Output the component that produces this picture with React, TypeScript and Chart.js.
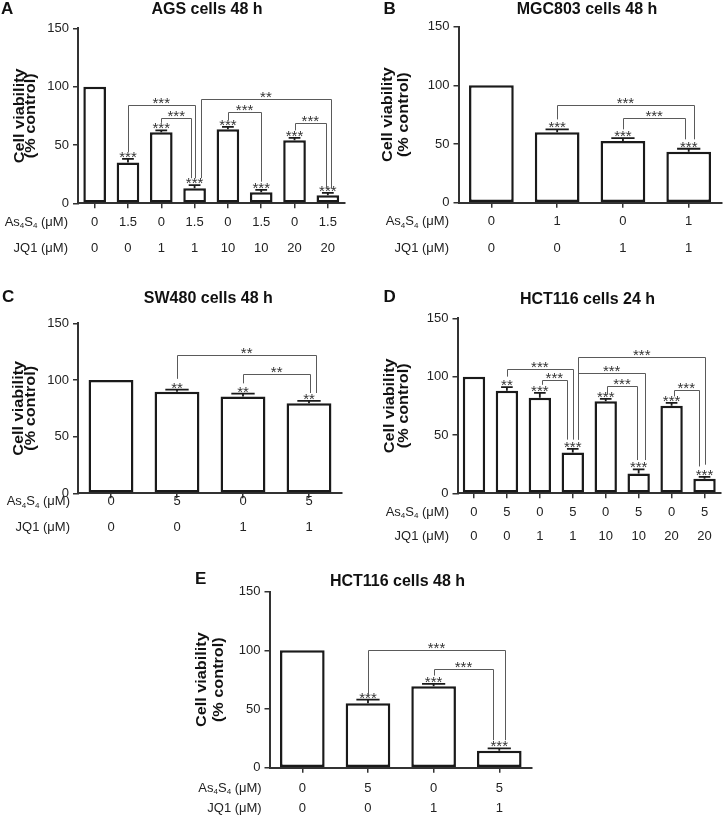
import React, { useEffect, useRef } from "react";
import { Chart, registerables } from "chart.js";

Chart.register(...registerables);

const FONT = "Arial, 'Liberation Sans', Helvetica, sans-serif";
const INK = "#222";
const LINE = "#5a5a5a";

// ---------- Panel A: AGS cells 48 h ----------
const aAs = ["0", "1.5", "0", "1.5", "0", "1.5", "0", "1.5"];
const aJq = ["0", "0", "1", "1", "10", "10", "20", "20"];
const aVals = [100, 35, 61, 13, 63.5, 9.5, 54, 7];
const aErr = [0, 3, 1.5, 2.5, 2, 2, 2, 2];
const aStars = ["", "***", "***", "***", "***", "***", "***", "***"];
const aBrackets = [
  { from: 1, to: 3, top: 84, fromEnd: 44, toEnd: 21.5, label: "***", fromShift: 0, toShift: 0 },
  { from: 2, to: 3, top: 73.5, fromEnd: 69, toEnd: 21.5, label: "***", fromShift: 0, toShift: -0.1 },
  { from: 3, to: 7, top: 89.7, fromEnd: 21.5, toEnd: 12.5, label: "**", fromShift: 0.18, toShift: 0.1 },
  { from: 4, to: 5, top: 78, fromEnd: 71, toEnd: 18.5, label: "***", fromShift: 0, toShift: 0 },
  { from: 6, to: 7, top: 69, fromEnd: 62.5, toEnd: 12.5, label: "***", fromShift: 0, toShift: -0.05 },
];

// ---------- Panel B: MGC803 cells 48 h ----------
const bAs = ["0", "1", "0", "1"];
const bJq = ["0", "0", "1", "1"];
const bVals = [100, 60, 52.5, 43.5];
const bErr = [0, 2.5, 2.5, 2.5];
const bStars = ["", "***", "***", "***"];
const bBrackets = [
  { from: 1, to: 3, top: 83.5, fromEnd: 71, toEnd: 54, label: "***", fromShift: 0, toShift: 0.076 },
  { from: 2, to: 3, top: 72.5, fromEnd: 62.5, toEnd: 54, label: "***", fromShift: 0, toShift: -0.05 },
];

// ---------- Panel C: SW480 cells 48 h ----------
const cAs = ["0", "5", "0", "5"];
const cJq = ["0", "0", "1", "1"];
const cVals = [100, 89.5, 85.5, 79.5];
const cErr = [0, 2, 2.5, 2];
const cStars = ["", "**", "**", "**"];
const cBrackets = [
  { from: 1, to: 3, top: 122, fromEnd: 101, toEnd: 88.5, label: "**", fromShift: 0, toShift: 0.11 },
  { from: 2, to: 3, top: 105, fromEnd: 97, toEnd: 88.5, label: "**", fromShift: 0, toShift: 0.02 },
];

// ---------- Panel D: HCT116 cells 24 h ----------
const dAs = ["0", "5", "0", "5", "0", "5", "0", "5"];
const dJq = ["0", "0", "1", "1", "10", "10", "20", "20"];
const dVals = [100, 88, 82, 35, 79, 17, 75, 12.5];
const dErr = [0, 3, 4, 3, 2, 3.5, 2.5, 1.5];
const dStars = ["", "**", "***", "***", "***", "***", "***", "***"];
const dBrackets = [
  { from: 1, to: 3, top: 106.3, fromEnd: 100, toEnd: 46, label: "***", fromShift: 0, toShift: 0 },
  { from: 2, to: 3, top: 97, fromEnd: 93, toEnd: 46, label: "***", fromShift: 0.06, toShift: -0.18 },
  { from: 3, to: 7, top: 116.6, fromEnd: 46, toEnd: 24.5, label: "***", fromShift: 0.17, toShift: 0.02 },
  { from: 3, to: 5, top: 103, fromEnd: 46, toEnd: 28.5, label: "***", fromShift: 0.17, toShift: 0.19 },
  { from: 4, to: 5, top: 92, fromEnd: 84.5, toEnd: 28.5, label: "***", fromShift: 0.05, toShift: -0.06 },
  { from: 6, to: 7, top: 88.6, fromEnd: 83, toEnd: 23, label: "***", fromShift: 0.07, toShift: -0.18 },
];

// ---------- Panel E: HCT116 cells 48 h ----------
const eAs = ["0", "5", "0", "5"];
const eJq = ["0", "0", "1", "1"];
const eVals = [100, 55, 69.5, 14.5];
const eErr = [0, 3, 2, 2];
const eStars = ["", "***", "***", "***"];
const eBrackets = [
  { from: 1, to: 3, top: 100, fromEnd: 62, toEnd: 23.5, label: "***", fromShift: 0, toShift: 0.087 },
  { from: 2, to: 3, top: 84.4, fromEnd: 78.5, toEnd: 23.5, label: "***", fromShift: 0, toShift: -0.09 },
];

const yTicks = [0, 50, 100, 150];

type Bracket = {
  from: number; to: number; top: number; fromEnd: number; toEnd: number;
  label: string; fromShift: number; toShift: number;
};

type PanelCfg = {
  letter: string;
  title: string;
  as: string[];
  jq: string[];
  vals: number[];
  err: number[];
  stars: string[];
  brackets: Bracket[];
  box: { left: number; top: number; width: number; height: number };
  area: { left: number; top: number; right: number; bottom: number };
  row1: number;
  row2: number;
  labelRight: number;
  yTitleX: [number, number];
  titleX: number;
  titleY: number;
  letterX: number;
  letterY: number;
};

const panels: PanelCfg[] = [
  {
    letter: "A", title: "AGS cells 48 h",
    as: aAs, jq: aJq, vals: aVals, err: aErr, stars: aStars, brackets: aBrackets,
    box: { left: 0, top: 0, width: 362, height: 275 },
    area: { left: 78, top: 28.3, right: 344.5, bottom: 203.3 },
    row1: 19, row2: 44.7, labelRight: 68,
    yTitleX: [19.5, 30.9], titleX: 207, titleY: 9.5, letterX: 1, letterY: 9.5,
  },
  {
    letter: "B", title: "MGC803 cells 48 h",
    as: bAs, jq: bJq, vals: bVals, err: bErr, stars: bStars, brackets: bBrackets,
    box: { left: 362, top: 0, width: 361, height: 275 },
    area: { left: 96.5, top: 26.7, right: 359.6, bottom: 202.7 },
    row1: 19, row2: 45.3, labelRight: 87,
    yTitleX: [26, 42.4], titleX: 225, titleY: 9.5, letterX: 21.5, letterY: 9.5,
  },
  {
    letter: "C", title: "SW480 cells 48 h",
    as: cAs, jq: cJq, vals: cVals, err: cErr, stars: cStars, brackets: cBrackets,
    box: { left: 0, top: 275, width: 362, height: 273 },
    area: { left: 78, top: 48.3, right: 342, bottom: 218.3 },
    row1: 8.4, row2: 33.7, labelRight: 70,
    yTitleX: [19.2, 31.4], titleX: 208.3, titleY: 23.7, letterX: 2, letterY: 22.5,
  },
  {
    letter: "D", title: "HCT116 cells 24 h",
    as: dAs, jq: dJq, vals: dVals, err: dErr, stars: dStars, brackets: dBrackets,
    box: { left: 362, top: 275, width: 361, height: 273 },
    area: { left: 95.5, top: 43.3, right: 359, bottom: 218.3 },
    row1: 19, row2: 42.7, labelRight: 87,
    yTitleX: [27.5, 41.9], titleX: 225.5, titleY: 24.5, letterX: 21.5, letterY: 22.8,
  },
  {
    letter: "E", title: "HCT116 cells 48 h",
    as: eAs, jq: eJq, vals: eVals, err: eErr, stars: eStars, brackets: eBrackets,
    box: { left: 180, top: 548, width: 362, height: 268 },
    area: { left: 89.5, top: 43.7, right: 352.1, bottom: 219.7 },
    row1: 20.6, row2: 40.6, labelRight: 81.7,
    yTitleX: [21.7, 38.6], titleX: 217.5, titleY: 34, letterX: 15, letterY: 31.2,
  },
];

function drawAsLabel(ctx: CanvasRenderingContext2D, xRight: number, y: number, size: number) {
  const parts = [
    { t: "As", sub: false },
    { t: "4", sub: true },
    { t: "S", sub: false },
    { t: "4", sub: true },
    { t: " (\u03bcM)", sub: false },
  ];
  const subSize = Math.round(size * 0.62);
  let total = 0;
  const widths: number[] = [];
  for (const p of parts) {
    ctx.font = `${p.sub ? subSize : size}px ${FONT}`;
    const w = ctx.measureText(p.t).width;
    widths.push(w);
    total += w;
  }
  let x = xRight - total;
  ctx.textAlign = "left";
  ctx.textBaseline = "middle";
  parts.forEach((p, i) => {
    ctx.font = `${p.sub ? subSize : size}px ${FONT}`;
    ctx.fillText(p.t, x, p.sub ? y + size * 0.3 : y);
    x += widths[i];
  });
}

function makePlugin(p: PanelCfg) {
  return {
    id: "annot" + p.letter,
    afterDraw(chart: any) {
      const ctx: CanvasRenderingContext2D = chart.ctx;
      const xs = chart.scales.x;
      const ys = chart.scales.y;
      const meta = chart.getDatasetMeta(0);
      const cat = xs.getPixelForValue(1) - xs.getPixelForValue(0);
      ctx.save();

      // error bars and stars
      p.vals.forEach((v, i) => {
        const el = meta.data[i];
        const x = el.x;
        const e = p.err[i];
        const yTop = ys.getPixelForValue(v);
        const yCap = ys.getPixelForValue(v + e);
        if (e > 0) {
          const half = el.width * 0.26;
          ctx.strokeStyle = "#1a1a1a";
          ctx.lineWidth = 1.8;
          ctx.beginPath();
          ctx.moveTo(x, yTop);
          ctx.lineTo(x, yCap);
          ctx.moveTo(x - half, yCap);
          ctx.lineTo(x + half, yCap);
          ctx.stroke();
        }
        if (p.stars[i]) {
          ctx.fillStyle = "#333";
          ctx.font = `15px ${FONT}`;
          ctx.textAlign = "center";
          ctx.textBaseline = "alphabetic";
          ctx.fillText(p.stars[i], x, yCap + 3);
        }
      });

      // significance brackets
      p.brackets.forEach((b) => {
        const x1 = xs.getPixelForValue(b.from) + b.fromShift * cat;
        const x2 = xs.getPixelForValue(b.to) + b.toShift * cat;
        const yt = Math.round(ys.getPixelForValue(b.top)) + 0.5;
        ctx.strokeStyle = LINE;
        ctx.lineWidth = 1;
        ctx.beginPath();
        ctx.moveTo(Math.round(x1) + 0.5, ys.getPixelForValue(b.fromEnd));
        ctx.lineTo(Math.round(x1) + 0.5, yt);
        ctx.lineTo(Math.round(x2) + 0.5, yt);
        ctx.lineTo(Math.round(x2) + 0.5, ys.getPixelForValue(b.toEnd));
        ctx.stroke();
        ctx.fillStyle = "#333";
        ctx.font = `15px ${FONT}`;
        ctx.textAlign = "center";
        ctx.textBaseline = "alphabetic";
        ctx.fillText(b.label, (x1 + x2) / 2, yt + 2.5);
      });

      // x category rows
      const axisY = chart.chartArea.bottom;
      ctx.fillStyle = INK;
      ctx.font = `13px ${FONT}`;
      ctx.textAlign = "center";
      ctx.textBaseline = "middle";
      p.as.forEach((t, i) => {
        const x = xs.getPixelForValue(i);
        ctx.fillText(t, x, axisY + p.row1);
        ctx.fillText(p.jq[i], x, axisY + p.row2);
      });
      drawAsLabel(ctx, p.labelRight, axisY + p.row1, 13);
      ctx.font = `13px ${FONT}`;
      ctx.textAlign = "right";
      ctx.textBaseline = "middle";
      ctx.fillText("JQ1 (\u03bcM)", p.labelRight, axisY + p.row2);

      // y title (two rotated lines)
      const midY = (chart.chartArea.top + chart.chartArea.bottom) / 2;
      ctx.font = `bold 14.5px ${FONT}`;
      ctx.textAlign = "center";
      ctx.textBaseline = "middle";
      ctx.fillStyle = "#111";
      ["Cell viability", "(% control)"].forEach((t, k) => {
        ctx.save();
        ctx.translate(p.yTitleX[k], midY);
        ctx.rotate(-Math.PI / 2);
        ctx.scale(1.12, 1);
        ctx.fillText(t, 0, 0);
        ctx.restore();
      });

      // title and panel letter
      ctx.font = `bold 16px ${FONT}`;
      ctx.textAlign = "center";
      ctx.fillText(p.title, p.titleX, p.titleY);
      ctx.font = `bold 17px ${FONT}`;
      ctx.textAlign = "left";
      ctx.fillText(p.letter, p.letterX, p.letterY);

      ctx.restore();
    },
  };
}

function Panel({ cfg }: { cfg: PanelCfg }) {
  const ref = useRef<HTMLCanvasElement | null>(null);
  useEffect(() => {
    if (!ref.current) return;
    const { box, area } = cfg;
    const chart = new Chart(ref.current, {
      type: "bar",
      data: {
        labels: cfg.as.map((a, i) => `${a}/${cfg.jq[i]}`),
        datasets: [
          {
            data: cfg.vals,
            backgroundColor: "#ffffff",
            borderColor: "#1a1a1a",
            borderWidth: 2.5,
            borderSkipped: false,
            barPercentage: 0.68,
            categoryPercentage: 1,
          },
        ],
      },
      options: {
        responsive: false,
        animation: false,
        devicePixelRatio: 1,
        events: [],
        layout: {
          padding: { left: 0, top: area.top, right: box.width - area.right, bottom: 0 },
        },
        plugins: {
          legend: { display: false },
          tooltip: { enabled: false },
          title: { display: false },
        },
        scales: {
          x: {
            type: "category",
            offset: true,
            grid: {
              offset: false,
              drawOnChartArea: false,
              drawTicks: true,
              tickLength: 5,
              color: "#333",
              lineWidth: 1.5,
            },
            border: { display: true, color: "#333", width: 2 },
            ticks: { display: false },
            afterFit: (s: any) => {
              s.height = box.height - area.bottom;
            },
          },
          y: {
            min: 0,
            max: 150,
            afterBuildTicks: (s: any) => {
              s.ticks = yTicks.map((v) => ({ value: v }));
            },
            ticks: {
              color: INK,
              font: { family: FONT, size: 13 },
              padding: 4,
            },
            grid: {
              drawOnChartArea: false,
              drawTicks: true,
              tickLength: 5,
              color: "#333",
              lineWidth: 1.5,
            },
            border: { display: true, color: "#333", width: 2 },
            afterFit: (s: any) => {
              s.width = area.left;
            },
          },
        },
      } as any,
      plugins: [makePlugin(cfg)],
    });
    return () => chart.destroy();
  }, [cfg]);
  return (
    <canvas
      ref={ref}
      width={cfg.box.width}
      height={cfg.box.height}
      style={{
        position: "absolute",
        left: cfg.box.left,
        top: cfg.box.top,
        width: cfg.box.width,
        height: cfg.box.height,
      }}
    />
  );
}

export default function App() {
  return (
    <div
      style={{
        position: "absolute",
        left: 0,
        top: 0,
        width: 723,
        height: 816,
        background: "#fff",
        overflow: "hidden",
      }}
    >
      {panels.map((p) => (
        <Panel key={p.letter} cfg={p} />
      ))}
    </div>
  );
}
